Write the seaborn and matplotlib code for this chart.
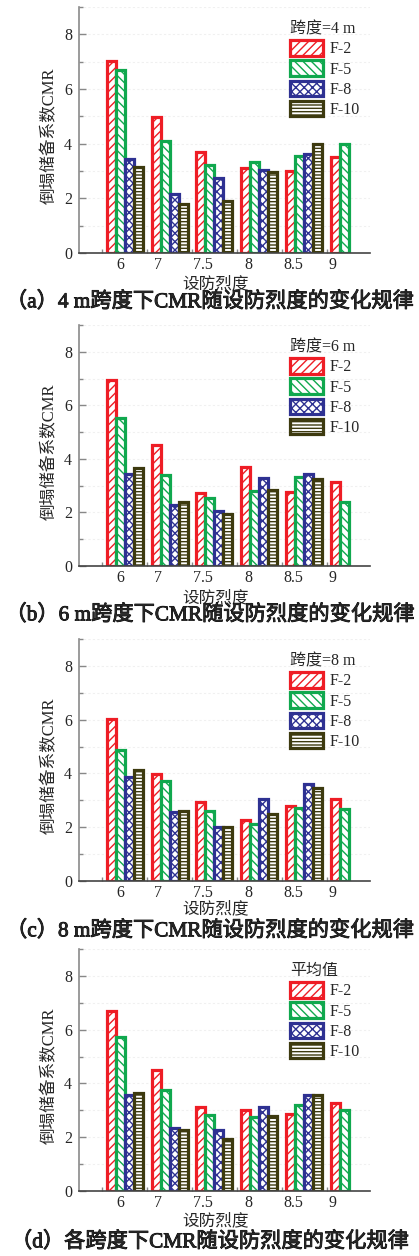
import numpy as np
import pandas as pd
import matplotlib
matplotlib.use("Agg")
import matplotlib.pyplot as plt
import matplotlib.patheffects as pe
from matplotlib.patches import Patch
from matplotlib.ticker import MultipleLocator, FixedLocator
import seaborn as sns

# ---- data: collapse margin ratio (CMR) by seismic fortification intensity ----
intensity = ["6", "7", "7.5", "8", "8.5", "9"]
frames = ["F-2", "F-5", "F-8", "F-10"]
nan = np.nan

# span = 4 m
cmr_4m_f2 = [7.03, 4.97, 3.69, 3.12, 2.99, 3.52]
cmr_4m_f5 = [6.70, 4.11, 3.23, 3.32, 3.55, 3.97]
cmr_4m_f8 = [3.43, 2.15, 2.76, 3.04, 3.64, nan]
cmr_4m_f10 = [3.16, 1.81, 1.89, 2.98, 3.97, nan]

# span = 6 m
cmr_6m_f2 = [6.95, 4.53, 2.72, 3.69, 2.75, 3.12]
cmr_6m_f5 = [5.52, 3.41, 2.54, 2.79, 3.32, 2.38]
cmr_6m_f8 = [3.43, 2.29, 2.04, 3.28, 3.45, nan]
cmr_6m_f10 = [3.66, 2.39, 1.94, 2.82, 3.25, nan]

# span = 8 m
cmr_8m_f2 = [6.04, 3.97, 2.92, 2.27, 2.79, 3.06]
cmr_8m_f5 = [4.88, 3.73, 2.62, 2.11, 2.73, 2.68]
cmr_8m_f8 = [3.85, 2.58, 2.02, 3.06, 3.60, nan]
cmr_8m_f10 = [4.14, 2.61, 1.99, 2.48, 3.45, nan]

# mean over all spans
cmr_avg_f2 = [6.71, 4.51, 3.14, 3.02, 2.86, 3.27]
cmr_avg_f5 = [5.71, 3.74, 2.83, 2.77, 3.20, 3.02]
cmr_avg_f8 = [3.58, 2.34, 2.27, 3.14, 3.58, nan]
cmr_avg_f10 = [3.66, 2.27, 1.94, 2.79, 3.58, nan]

legend_titles = ["跨度=4 m", "跨度=6 m", "跨度=8 m", "平均值"]
captions = [
    "（a）4 m跨度下CMR随设防烈度的变化规律",
    "（b）6 m跨度下CMR随设防烈度的变化规律",
    "（c）8 m跨度下CMR随设防烈度的变化规律",
    "（d）各跨度下CMR随设防烈度的变化规律",
]
x_label = "设防烈度"
y_label = "倒塌储备系数CMR"

colors = ["#ee1d25", "#10a84e", "#2e3192", "#3d3a0f"]
hatches = ["////", "\\\\\\\\", "xxxx", "-----"]

panels = [
    (cmr_4m_f2, cmr_4m_f5, cmr_4m_f8, cmr_4m_f10),
    (cmr_6m_f2, cmr_6m_f5, cmr_6m_f8, cmr_6m_f10),
    (cmr_8m_f2, cmr_8m_f5, cmr_8m_f8, cmr_8m_f10),
    (cmr_avg_f2, cmr_avg_f5, cmr_avg_f8, cmr_avg_f10),
]


def long_table(series):
    rows = []
    for frame, values in zip(frames, series):
        for level, v in zip(intensity, values):
            if not np.isnan(v):
                rows.append({"intensity": level, "frame": frame, "cmr": v})
    return pd.DataFrame(rows)


# ---- style ----
sns.set_theme(style="ticks")
FAMILY = ["Liberation Serif", "Noto Sans CJK SC", "DejaVu Sans"]
plt.rcParams["font.family"] = FAMILY
plt.rcParams["hatch.linewidth"] = 1.0
plt.rcParams["axes.unicode_minus"] = False

W, H = 419, 1256
fig = plt.figure(figsize=(W / 100, H / 100), dpi=100)

ax_left, ax_right = 79, 370
tops = [7, 325, 639, 949]
bottoms = [253, 566, 881, 1191]
label_y = [284, 598, 909, 1221]
caption_y = [302, 615, 931, 1242]

for i, series in enumerate(panels):
    top, bottom = tops[i], bottoms[i]
    ax = fig.add_axes([ax_left / W, 1 - bottom / H,
                       (ax_right - ax_left) / W, (bottom - top) / H])
    df = long_table(series)
    sns.barplot(data=df, x="intensity", y="cmr", hue="frame",
                order=intensity, hue_order=frames, palette=colors,
                width=0.8, saturation=1, legend=False, ax=ax)

    for container, color, hatch in zip(ax.containers, colors, hatches):
        for bar in container:
            bar.set_facecolor("white")
            bar.set_edgecolor(color)
            bar.set_hatch(hatch)
            bar.set_linewidth(2.3)

    # tick for each intensity sits under the centre of its drawn bars
    centers = {}
    for container in ax.containers:
        for bar in container:
            cx = bar.get_x() + bar.get_width() / 2
            idx = int(round(bar.get_x() + 0.4))
            centers.setdefault(idx, []).append(cx)
    tick_pos = [np.mean(centers[k]) for k in sorted(centers)]
    ax.xaxis.set_major_locator(FixedLocator(tick_pos))
    ax.set_xticklabels(intensity)
    ax.xaxis.set_minor_locator(FixedLocator([k - 0.5 for k in range(len(intensity))]))

    ax.set_xlim(-1.02, 5.47)
    ax.set_ylim(0, 9)
    ax.yaxis.set_major_locator(MultipleLocator(2))
    ax.yaxis.set_minor_locator(MultipleLocator(1))

    ax.tick_params(axis="x", which="major", length=0, pad=3, labelsize=11.5)
    ax.tick_params(axis="x", which="minor", direction="in", length=3,
                   width=1.0, color="#888888")
    ax.tick_params(axis="y", which="major", direction="in", length=5,
                   width=1.0, color="#888888", pad=5, labelsize=11.5)
    ax.tick_params(axis="y", which="minor", direction="in", length=3,
                   width=1.0, color="#888888")

    for side in ("top", "right"):
        ax.spines[side].set_visible(False)
    ax.spines["left"].set_color("#8a8a8a")
    ax.spines["left"].set_linewidth(1.2)
    ax.spines["bottom"].set_color("#444444")
    ax.spines["bottom"].set_linewidth(1.2)

    ax.grid(axis="y", which="both", color="#f0f0f0", linewidth=0.8,
            linestyle=(0, (2, 2)))
    ax.set_axisbelow(True)

    ax.set_xlabel(x_label, fontsize=12)
    ax.xaxis.label.set_verticalalignment("center")
    ax.xaxis.set_label_coords((216 - ax_left) / (ax_right - ax_left),
                              -(label_y[i] - bottom) / (bottom - top))
    ax.set_ylabel(y_label, fontsize=12)
    ax.yaxis.label.set_verticalalignment("center")
    ax.yaxis.set_label_coords((50 - ax_left) / (ax_right - ax_left), 0.475)

    handles = [Patch(facecolor="white", edgecolor=c, hatch=h, linewidth=2.3,
                     label=f) for c, h, f in zip(colors, hatches, frames)]
    leg = ax.legend(handles=handles, title=legend_titles[i], loc="upper left",
                    bbox_to_anchor=((290 - ax_left) / (ax_right - ax_left),
                                    1 - 14 / (bottom - top)),
                    frameon=False, fontsize=11.5, title_fontsize=11.5,
                    handlelength=2.05, handleheight=1.1, labelspacing=0.2,
                    handletextpad=0.45, borderpad=0, borderaxespad=0,
                    alignment="left")

    fig.text(210 / W, 1 - caption_y[i] / H, captions[i], ha="center",
             va="center", fontsize=15.3, family=FAMILY,
             path_effects=[pe.withStroke(linewidth=0.6, foreground="black")])

fig.savefig("out.png", dpi=100)
